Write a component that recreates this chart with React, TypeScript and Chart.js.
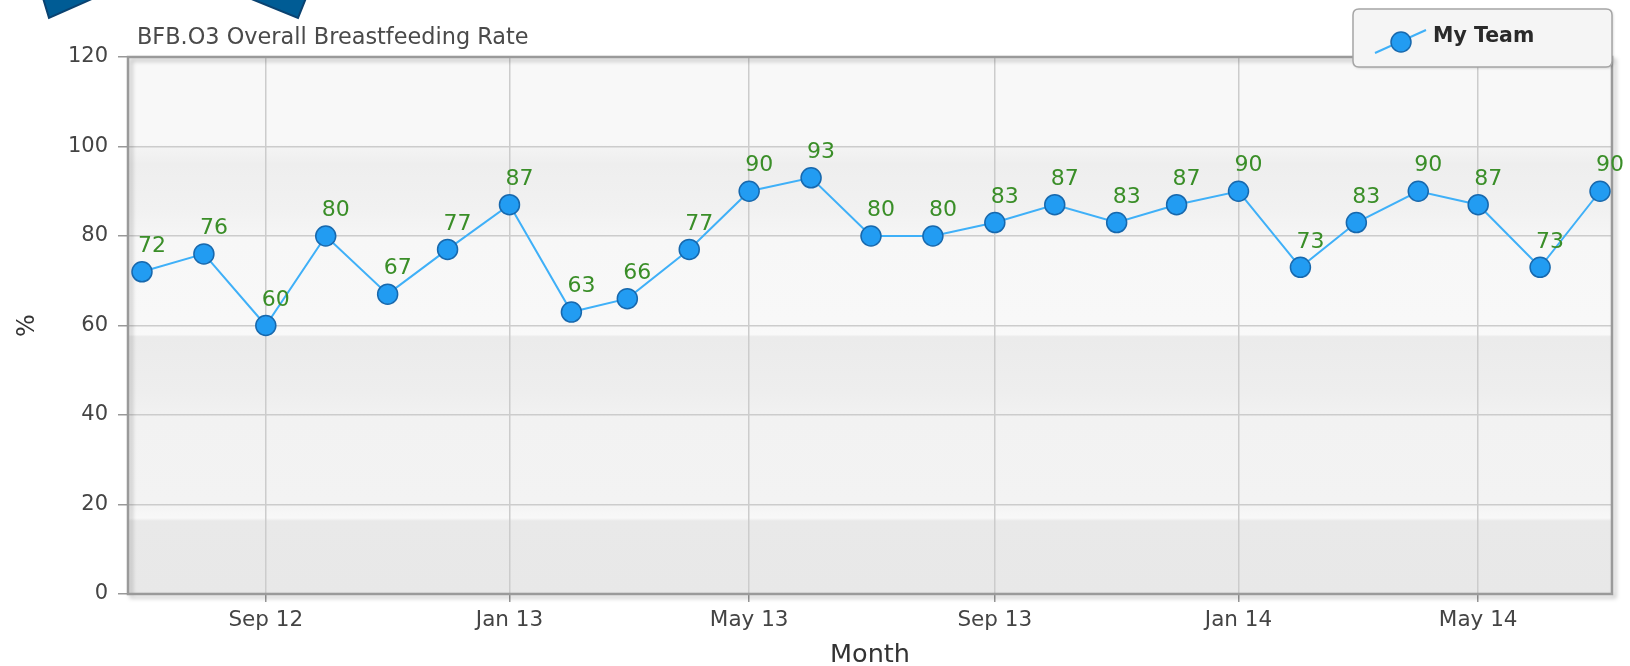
import React, { useEffect, useRef } from 'react';
import { Chart, registerables } from 'chart.js';

Chart.register(...registerables);

const months = [
  'Jul 12', 'Aug 12', 'Sep 12', 'Oct 12', 'Nov 12', 'Dec 12',
  'Jan 13', 'Feb 13', 'Mar 13', 'Apr 13', 'May 13', 'Jun 13',
  'Jul 13', 'Aug 13', 'Sep 13', 'Oct 13', 'Nov 13', 'Dec 13',
  'Jan 14', 'Feb 14', 'Mar 14', 'Apr 14', 'May 14', 'Jun 14', 'Jul 14',
];
const myTeam = [72, 76, 60, 80, 67, 77, 87, 63, 66, 77, 90, 93, 80, 80, 83, 87, 83, 87, 90, 73, 83, 90, 87, 73, 90];
const tickLabels = ['Sep 12', 'Jan 13', 'May 13', 'Sep 13', 'Jan 14', 'May 14'];
const yMin = 0;
const yMax = 120;
const yStep = 20;
const chartTitle = 'BFB.O3 Overall Breastfeeding Rate';
const seriesName = 'My Team';
const xTitle = 'Month';
const yTitle = '%';

const FONT = "'DejaVu Sans', Verdana, sans-serif";
const LINE_COLOR = '#3fb0f8';
const POINT_FILL = '#229cf2';
const POINT_BORDER = '#1768ad';
const LABEL_COLOR = '#3a8e28';

const MONTH_NAMES = ['Jan', 'Feb', 'Mar', 'Apr', 'May', 'Jun', 'Jul', 'Aug', 'Sep', 'Oct', 'Nov', 'Dec'];
const DAY = 86400000;
const monthToDay = (label: string) => {
  const [m, y] = label.split(' ');
  return Date.UTC(2000 + Number(y), MONTH_NAMES.indexOf(m), 1) / DAY;
};
const startDay = monthToDay(months[0]);
const dayOf = (label: string) => monthToDay(label) - startDay;
const lastDay = dayOf(months[months.length - 1]);

const bgPlugin = {
  id: 'bgPlugin',
  beforeDraw(chart: any) {
    const { ctx, chartArea: a, scales } = chart;
    const y = scales.y;
    ctx.save();
    ctx.fillStyle = '#ffffff';
    ctx.fillRect(0, 0, chart.width, chart.height);
    const stops: [number, string][] = [
      [120, '#f8f8f8'], [100.5, '#f8f8f8'], [99.5, '#f3f3f3'], [96, '#eeeeee'], [86, '#f1f1f1'], [80.5, '#f5f5f5'],
      [79.5, '#f7f7f7'], [60.5, '#f8f8f8'], [58, '#f9f9f9'], [57.5, '#ebebeb'], [45, '#eeeeee'], [40.5, '#f1f1f1'],
      [39.5, '#f2f2f2'], [20.5, '#f3f3f3'], [17, '#f8f8f8'], [16.3, '#e9e9e9'], [0, '#e8e8e8'],
    ];
    const g = ctx.createLinearGradient(0, a.top, 0, a.bottom);
    const h = a.bottom - a.top;
    for (const [v, c] of stops) {
      const p = (y.getPixelForValue(v) - a.top) / h;
      g.addColorStop(Math.min(1, Math.max(0, p)), c);
    }
    ctx.fillStyle = g;
    ctx.fillRect(a.left, a.top, a.right - a.left, a.bottom - a.top);

    ctx.fillStyle = '#005c95';
    ctx.strokeStyle = '#0a4270';
    ctx.lineWidth = 2;
    ctx.beginPath();
    ctx.moveTo(43, -2); ctx.lineTo(94, -2); ctx.lineTo(49, 18); ctx.closePath();
    ctx.fill(); ctx.stroke();
    ctx.beginPath();
    ctx.moveTo(249, -2); ctx.lineTo(306, -2); ctx.lineTo(298, 18); ctx.closePath();
    ctx.fill(); ctx.stroke();
    ctx.restore();
  },
  beforeDatasetsDraw(chart: any) {
    const { ctx, chartArea: a } = chart;
    ctx.save();
    ctx.shadowColor = 'rgba(0,0,0,0.25)';
    ctx.shadowBlur = 4;
    ctx.shadowOffsetX = 3;
    ctx.shadowOffsetY = 3;
    ctx.strokeStyle = '#9a9a9a';
    ctx.lineWidth = 2.5;
    ctx.strokeRect(a.left, a.top, a.right - a.left, a.bottom - a.top);
    ctx.restore();
  },
  afterDatasetsDraw(chart: any) {
    const { ctx } = chart;
    const meta = chart.getDatasetMeta(0);
    ctx.save();
    ctx.font = `22px ${FONT}`;
    ctx.fillStyle = LABEL_COLOR;
    ctx.textAlign = 'center';
    ctx.textBaseline = 'middle';
    meta.data.forEach((pt: any, i: number) => {
      ctx.fillText(String(myTeam[i]), pt.x + 10, pt.y - 25.5);
    });
    ctx.restore();
  },
  afterDraw(chart: any) {
    const { ctx } = chart;
    ctx.save();
    ctx.font = `22.4px ${FONT}`;
    ctx.fillStyle = '#4a4a4a';
    ctx.textAlign = 'left';
    ctx.textBaseline = 'middle';
    ctx.fillText(chartTitle, 137, 38);

    const x0 = 1353, y0 = 9, w = 259, hh = 58, r = 6;
    ctx.shadowColor = 'rgba(0,0,0,0.2)';
    ctx.shadowBlur = 3;
    ctx.shadowOffsetX = 1;
    ctx.shadowOffsetY = 1;
    ctx.beginPath();
    ctx.moveTo(x0 + r, y0);
    ctx.lineTo(x0 + w - r, y0);
    ctx.quadraticCurveTo(x0 + w, y0, x0 + w, y0 + r);
    ctx.lineTo(x0 + w, y0 + hh - r);
    ctx.quadraticCurveTo(x0 + w, y0 + hh, x0 + w - r, y0 + hh);
    ctx.lineTo(x0 + r, y0 + hh);
    ctx.quadraticCurveTo(x0, y0 + hh, x0, y0 + hh - r);
    ctx.lineTo(x0, y0 + r);
    ctx.quadraticCurveTo(x0, y0, x0 + r, y0);
    ctx.closePath();
    ctx.fillStyle = '#f5f5f5';
    ctx.fill();
    ctx.shadowColor = 'transparent';
    ctx.strokeStyle = '#a5a5a5';
    ctx.lineWidth = 1.5;
    ctx.stroke();

    ctx.strokeStyle = LINE_COLOR;
    ctx.lineWidth = 2;
    ctx.beginPath();
    ctx.moveTo(1375, 53);
    ctx.lineTo(1426, 30);
    ctx.stroke();
    ctx.beginPath();
    ctx.arc(1401, 42, 10, 0, Math.PI * 2);
    ctx.fillStyle = POINT_FILL;
    ctx.fill();
    ctx.strokeStyle = POINT_BORDER;
    ctx.lineWidth = 1.5;
    ctx.stroke();

    ctx.font = `bold 20.5px ${FONT}`;
    ctx.fillStyle = '#2a2a2a';
    ctx.textAlign = 'left';
    ctx.textBaseline = 'middle';
    ctx.fillText(seriesName, 1433, 37);
    ctx.restore();
  },
};

export default function App() {
  const ref = useRef<HTMLCanvasElement | null>(null);

  useEffect(() => {
    if (!ref.current) return;
    const data = myTeam.map((v, i) => ({ x: dayOf(months[i]), y: v }));
    const chart = new Chart(ref.current, {
      type: 'line',
      data: {
        datasets: [
          {
            label: seriesName,
            data,
            borderColor: LINE_COLOR,
            borderWidth: 2,
            backgroundColor: POINT_FILL,
            pointBackgroundColor: POINT_FILL,
            pointBorderColor: POINT_BORDER,
            pointBorderWidth: 1.5,
            pointRadius: 10,
            tension: 0,
            fill: false,
          },
        ],
      },
      options: {
        animation: false,
        responsive: false,
        devicePixelRatio: 1,
        layout: { padding: { top: 57, right: 18, left: 0, bottom: 0 } },
        plugins: {
          legend: { display: false },
          title: { display: false },
          tooltip: { enabled: false },
        },
        scales: {
          x: {
            type: 'linear',
            min: -7,
            max: lastDay + 6,
            afterBuildTicks: (scale: any) => {
              scale.ticks = tickLabels.map((l) => ({ value: dayOf(l) }));
            },
            afterFit: (scale: any) => {
              scale.height = 72;
            },
            ticks: {
              autoSkip: false,
              maxRotation: 0,
              padding: 6,
              color: '#444444',
              font: { family: FONT, size: 21.5 },
              callback: (v: any) => {
                const l = months.find((m) => dayOf(m) === v);
                return l ?? '';
              },
            },
            grid: {
              color: '#cccccc',
              lineWidth: 1.5,
              tickLength: 8,
              tickColor: '#999999',
            },
            border: { display: false },
            title: {
              display: true,
              text: xTitle,
              color: '#333333',
              font: { family: FONT, size: 25.5 },
              padding: { top: 0, bottom: -5 },
            },
          },
          y: {
            min: yMin,
            max: yMax,
            afterFit: (scale: any) => {
              scale.width = 128;
            },
            ticks: {
              stepSize: yStep,
              padding: 10,
              color: '#444444',
              font: { family: FONT, size: 21 },
            },
            grid: {
              color: '#cccccc',
              lineWidth: 1.5,
              tickLength: 10,
              tickColor: '#999999',
            },
            border: { display: false },
            title: {
              display: true,
              text: yTitle,
              color: '#333333',
              font: { family: FONT, size: 24 },
              padding: { top: 13, bottom: 0 },
            },
          },
        },
      },
      plugins: [bgPlugin],
    } as any);
    return () => chart.destroy();
  }, []);

  return (
    <div style={{ position: 'absolute', left: 0, top: 0, width: 1630, height: 666 }}>
      <canvas ref={ref} width={1630} height={666} style={{ display: 'block' }} />
    </div>
  );
}
